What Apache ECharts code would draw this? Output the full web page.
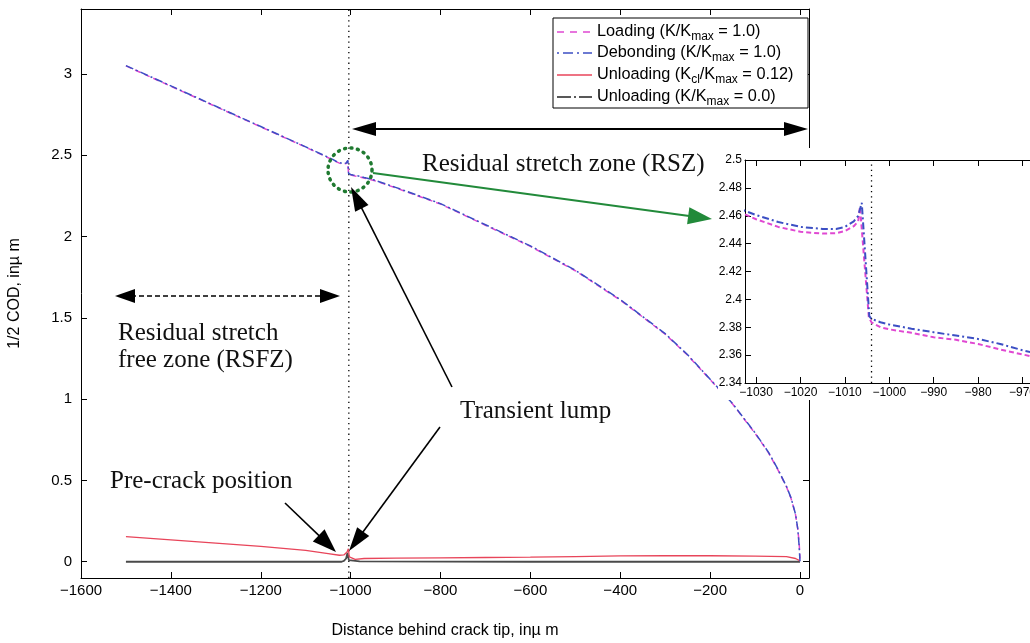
<!DOCTYPE html>
<html><head><meta charset="utf-8">
<script src="https://cdn.jsdelivr.net/npm/echarts@6/dist/echarts.min.js"></script>
<style>html,body{margin:0;padding:0;background:#fff}#c{width:1030px;height:643px}</style>
</head><body><div id="c"></div>
<script>
// ---------- data ----------
const xTicks = [-1600,-1400,-1200,-1000,-800,-600,-400,-200,0];
const yTicks = [0,0.5,1,1.5,2,2.5,3];
const insetXTicks = [-1030,-1020,-1010,-1000,-990,-980,-970];
const insetYTicks = [2.34,2.36,2.38,2.4,2.42,2.44,2.46,2.48,2.5];

const loadX = [-1500,-1400,-1300,-1200,-1100,-1050,-1040,-1032.5,-1030,-1025,-1020,-1015,-1012,-1010,-1008,-1007,-1006.6,-1004.6,-1004,-1002,-1000,-995,-990,-985,-980,-975,-970,-965,-950,-900,-800,-700,-600,-500,-400,-300,-250,-200,-150,-100,-70,-50,-30,-20,-10,-5,-2,0];
const loadY = [3.05,2.925,2.80,2.675,2.55,2.485,2.472,2.461,2.4575,2.452,2.4485,2.4472,2.4475,2.449,2.4525,2.456,2.4664,2.387,2.3835,2.380,2.3785,2.376,2.3728,2.371,2.368,2.364,2.3605,2.357,2.347,2.30,2.20,2.07,1.94,1.79,1.61,1.40,1.27,1.12,0.97,0.79,0.67,0.57,0.46,0.39,0.29,0.20,0.12,0.02];

const debX = [-1500,-1400,-1300,-1200,-1100,-1050,-1040,-1032.5,-1030,-1025,-1020,-1015,-1012,-1010,-1008,-1007,-1006.2,-1004.5,-1004,-1002,-1000,-995,-990,-985,-980,-975,-970,-965,-950,-900,-800,-700,-600,-500,-400,-300,-250,-200,-150,-100,-70,-50,-30,-20,-10,-5,-2,0];
const debY = [3.052,2.927,2.802,2.677,2.552,2.488,2.475,2.4635,2.4605,2.4555,2.452,2.4505,2.4505,2.452,2.456,2.460,2.4693,2.388,2.386,2.3836,2.382,2.379,2.3764,2.374,2.3716,2.368,2.3635,2.360,2.350,2.303,2.203,2.073,1.943,1.793,1.613,1.403,1.273,1.123,0.973,0.793,0.673,0.573,0.463,0.393,0.293,0.203,0.10,0.0];

const unlClX = [-1500,-1400,-1300,-1200,-1100,-1050,-1025,-1015,-1008,-1005,-1003,-990,-970,-900,-800,-700,-600,-500,-400,-300,-200,-100,-30,-10,0];
const unlClY = [0.155,0.135,0.115,0.095,0.07,0.05,0.04,0.042,0.06,0.08,0.03,0.015,0.02,0.022,0.024,0.026,0.028,0.032,0.036,0.038,0.037,0.035,0.032,0.02,0.005];

const unl0X = [-1500,-1100,-1020,-1015,-1010,-1007,-1005,-1004,-1002,-980,-600,-200,0];
const unl0Y = [0,0,0,0.005,0.02,0.055,0.06,0.01,0,0.002,0,0,0];

const preCrackX = -1004;
const seriesNames = ['Loading (K/Kmax = 1.0)','Debonding (K/Kmax = 1.0)','Unloading (Kcl/Kmax = 0.12)','Unloading (K/Kmax = 0.0)'];

// ---------- helpers ----------
const zip = (xs, ys) => xs.map((x, i) => [x, ys[i]]);
const minus = v => String(v).replace('-', '\u2212');
const C_LOAD = '#e048d2', C_DEB = '#3c4fc4', C_RED = '#e8455a', C_BLK = '#4a4a4a';
const DASH_LOAD = [6,4], DASH_DEB = [8,3,2,3];

function axis(o) {
  return Object.assign({
    type: 'value', scale: true,
    axisLine: {show: true, onZero: false, lineStyle: {color: '#000', width: 1}},
    splitLine: {show: false}
  }, o);
}
function ticks(vals) {
  return {show: true, inside: true, length: 6, customValues: vals, lineStyle: {color: '#000', width: 1}};
}
function labels(vals, size, margin, show, fmt) {
  return {show: show, customValues: vals, color: '#000', fontFamily: 'Liberation Sans', fontSize: size, margin: margin, formatter: fmt};
}

const chart = echarts.init(document.getElementById('c'), null, {renderer: 'canvas'});

const mainRange = {xmin: -1600, xmax: 20, ymin: -0.1, ymax: 3.4};
const insetRange = {xmin: -1032.5, xmax: -966.5, ymin: 2.34, ymax: 2.5};

// ---------- annotation graphics ----------
const G = [];
function arrowHead(x1, y1, x2, y2, len, wid, color) {
  const a = Math.atan2(y2 - y1, x2 - x1);
  const bx = x2 - len * Math.cos(a), by = y2 - len * Math.sin(a);
  const nx = -Math.sin(a) * wid / 2, ny = Math.cos(a) * wid / 2;
  return {type: 'polygon', z: 40, shape: {points: [[x2, y2], [bx + nx, by + ny], [bx - nx, by - ny]]}, style: {fill: color}};
}
function arrow(x1, y1, x2, y2, o) {
  o = Object.assign({color: '#000', width: 1.5, len: 22, wid: 14, dash: null, both: false}, o);
  const a = Math.atan2(y2 - y1, x2 - x1);
  const sx = o.both ? x1 + o.len * 0.8 * Math.cos(a) : x1, sy = o.both ? y1 + o.len * 0.8 * Math.sin(a) : y1;
  const ex = x2 - o.len * 0.8 * Math.cos(a), ey = y2 - o.len * 0.8 * Math.sin(a);
  G.push({type: 'line', z: 39, shape: {x1: sx, y1: sy, x2: ex, y2: ey}, style: {stroke: o.color, lineWidth: o.width, lineDash: o.dash}});
  G.push(arrowHead(x1, y1, x2, y2, o.len, o.wid, o.color));
  if (o.both) G.push(arrowHead(x2, y2, x1, y1, o.len, o.wid, o.color));
}
function serif(text, x, y) {
  G.push({type: 'text', z: 40, x: x, y: y, style: {text: text, fill: '#111', font: '25px "Liberation Serif"', textVerticalAlign: 'middle', verticalAlign: 'middle'}});
}

// inset white backing
G.push({type: 'rect', z: 5, shape: {x: 718, y: 148, width: 330, height: 252}, style: {fill: '#fff'}});

// annotations
arrow(352, 129, 808, 129, {both: true, len: 24, wid: 14, width: 1.8});
arrow(115, 296, 340, 296, {both: true, len: 20, wid: 14, width: 1.3, dash: [5, 3]});
G.push({type: 'circle', z: 40, shape: {cx: 350, cy: 170, r: 22}, style: {fill: 'none', stroke: '#1f7a30', lineWidth: 3.5, lineDash: [1, 5.5], lineCap: 'round'}});
arrow(373, 173, 712, 219, {color: '#228a3a', width: 2, len: 24, wid: 17});
arrow(452, 387, 351, 187, {len: 24, wid: 15, width: 1.6});
arrow(440, 427, 349, 551, {len: 24, wid: 15, width: 1.6});
arrow(285, 503, 336, 552, {len: 24, wid: 17, width: 1.6});
serif('Residual stretch zone (RSZ)', 422, 164);
serif('Residual stretch', 118, 333);
serif('free zone (RSFZ)', 118, 360);
serif('Transient lump', 460, 411);
serif('Pre-crack position', 110, 481);

// legend box
const LG = {x: 553, y: 18, w: 255, h: 90, rows: [32, 53, 75, 97], lx1: 557, lx2: 592, tx: 597};
G.push({type: 'rect', z: 30, shape: {x: LG.x, y: LG.y, width: LG.w, height: LG.h}, style: {fill: '#fff', stroke: '#000', lineWidth: 1}});
const legStyles = [
  {color: C_LOAD, dash: [7, 6]}, {color: C_DEB, dash: [2, 4, 10, 4]}, {color: C_RED, dash: null}, {color: '#222', dash: [14, 3, 2, 3]}
];
const legTexts = [
  '{m|Loading (K/K}{s|max}{m| = 1.0)}',
  '{m|Debonding (K/K}{s|max}{m| = 1.0)}',
  '{m|Unloading (K}{s|cl}{m|/K}{s|max}{m| = 0.12)}',
  '{m|Unloading (K/K}{s|max}{m| = 0.0)}'
];
LG.rows.forEach((ry, i) => {
  G.push({type: 'line', z: 31, shape: {x1: LG.lx1, y1: ry, x2: LG.lx2, y2: ry}, style: {stroke: legStyles[i].color, lineWidth: 1.4, lineDash: legStyles[i].dash}});
  G.push({type: 'text', z: 31, x: LG.tx, y: ry, style: {
    text: legTexts[i], verticalAlign: 'middle', textVerticalAlign: 'middle', fill: '#000',
    rich: {
      m: {fontFamily: 'Liberation Sans', fontSize: 16.3, fill: '#000', color: '#000'},
      s: {fontFamily: 'Liberation Sans', fontSize: 12, fill: '#000', color: '#000', padding: [10, 0, 0, 0]}
    }
  }});
});

// ---------- option ----------
const lineS = (name, data, xi, yi, color, width, dash, z) => ({
  type: 'line', name: name, data: data, xAxisIndex: xi, yAxisIndex: yi, showSymbol: false, symbol: 'none',
  lineStyle: {color: color, width: width, type: dash || 'solid'}, itemStyle: {color: color}, z: z, clip: true, animation: false
});

const option = {
  animation: false,
  backgroundColor: '#fff',
  grid: [
    {left: 81, top: 9, width: 728, height: 569, containLabel: false, outerBoundsMode: 'none'},
    {left: 745, top: 160, width: 293, height: 223, containLabel: false, outerBoundsMode: 'none'}
  ],
  xAxis: [
    axis({gridIndex: 0, position: 'bottom', min: mainRange.xmin, max: mainRange.xmax, axisTick: ticks(xTicks), axisLabel: labels(xTicks, 15, 5, true, minus),
      name: 'Distance behind crack tip, in\u00b5 m', nameLocation: 'middle', nameGap: 45, nameTextStyle: {color: '#000', fontFamily: 'Liberation Sans', fontSize: 16}}),
    axis({gridIndex: 0, position: 'top', min: mainRange.xmin, max: mainRange.xmax, axisTick: ticks(xTicks), axisLabel: labels(xTicks, 15, 8, false)}),
    axis({gridIndex: 1, position: 'bottom', z: 12, min: insetRange.xmin, max: insetRange.xmax, axisTick: ticks(insetXTicks), axisLabel: labels(insetXTicks, 12, 4, true, minus)}),
    axis({gridIndex: 1, position: 'top', z: 12, min: insetRange.xmin, max: insetRange.xmax, axisTick: ticks(insetXTicks), axisLabel: labels(insetXTicks, 12, 3, false)})
  ],
  yAxis: [
    axis({gridIndex: 0, position: 'left', min: mainRange.ymin, max: mainRange.ymax, axisTick: ticks(yTicks), axisLabel: labels(yTicks, 15, 9, true, minus),
      name: '1/2 COD, in\u00b5 m', nameLocation: 'middle', nameGap: 58, nameRotate: 90, nameTextStyle: {color: '#000', fontFamily: 'Liberation Sans', fontSize: 16}}),
    axis({gridIndex: 0, position: 'right', min: mainRange.ymin, max: mainRange.ymax, axisTick: ticks(yTicks), axisLabel: labels(yTicks, 15, 8, false)}),
    axis({gridIndex: 1, position: 'left', z: 12, min: insetRange.ymin, max: insetRange.ymax, axisTick: ticks(insetYTicks), axisLabel: labels(insetYTicks, 12, 3, true, v => String(+(+v).toFixed(2)))}),
    axis({gridIndex: 1, position: 'right', z: 12, min: insetRange.ymin, max: insetRange.ymax, axisTick: ticks(insetYTicks), axisLabel: labels(insetYTicks, 12, 3, false)})
  ],
  series: [
    lineS('precrack', [[preCrackX, mainRange.ymin], [preCrackX, mainRange.ymax]], 0, 0, '#000', 1.3, [1.3, 4], 1),
    lineS(seriesNames[3], zip(unl0X, unl0Y), 0, 0, C_BLK, 1.8, null, 2),
    lineS(seriesNames[2], zip(unlClX, unlClY), 0, 0, C_RED, 1.3, null, 2),
    lineS(seriesNames[0], zip(loadX, loadY), 0, 0, C_LOAD, 1.5, DASH_LOAD, 2),
    lineS(seriesNames[1], zip(debX, debY), 0, 0, C_DEB, 1.5, DASH_DEB, 2),
    lineS('precrack-inset', [[preCrackX, insetRange.ymin], [preCrackX, insetRange.ymax]], 2, 2, '#000', 1.3, [1.3, 4], 12),
    lineS(seriesNames[0] + ' inset', zip(loadX, loadY), 2, 2, C_LOAD, 2, [5, 3], 12),
    lineS(seriesNames[1] + ' inset', zip(debX, debY), 2, 2, C_DEB, 2, [7, 3, 2, 3], 12)
  ],
  graphic: {elements: G}
};
chart.setOption(option);
</script></body></html>
